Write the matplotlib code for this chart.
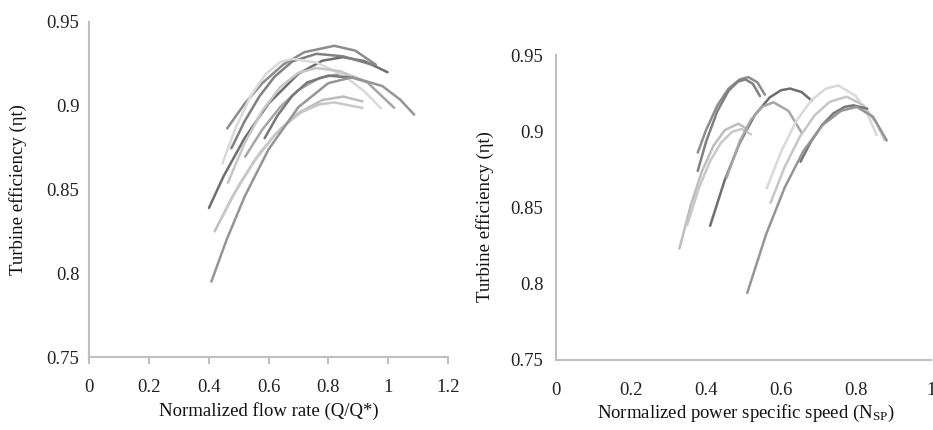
import matplotlib
matplotlib.use("Agg")
import matplotlib.pyplot as plt
from matplotlib.ticker import FormatStrFormatter, MultipleLocator

plt.rcParams['font.family'] = ['Liberation Serif', 'DejaVu Serif']
plt.rcParams['mathtext.default'] = 'regular'

# ---- data: turbine efficiency curves (gray level per turbine) ----
curve_colors = ['#6e6e6e', '#8c8c8c', '#808080', '#bdbdbd', '#c8c8c8',
                '#a6a6a6', '#d9d9d9', '#c6c6c6', '#787878', '#959595']

# Left panel: normalized flow rate Q/Q*
flow_x = [
    [0.401, 0.45, 0.52, 0.60, 0.70, 0.78, 0.848, 0.92, 0.998],
    [0.462, 0.52, 0.58, 0.65, 0.72, 0.82, 0.89, 0.959],
    [0.476, 0.52, 0.57, 0.62, 0.68, 0.76, 0.85, 0.947],
    [0.42, 0.48, 0.55, 0.62, 0.70, 0.78, 0.85, 0.914],
    [0.44, 0.50, 0.57, 0.64, 0.71, 0.77, 0.82, 0.914],
    [0.522, 0.58, 0.64, 0.70, 0.77, 0.84, 0.93, 1.02],
    [0.446, 0.49, 0.54, 0.59, 0.64, 0.68, 0.76, 0.85, 0.92, 0.976],
    [0.464, 0.52, 0.58, 0.64, 0.70, 0.76, 0.84, 0.92],
    [0.587, 0.63, 0.68, 0.73, 0.80, 0.88],
    [0.409, 0.46, 0.52, 0.60, 0.70, 0.80, 0.88, 0.98, 1.04, 1.087],
]
flow_eff = [
    [0.839, 0.858, 0.8806, 0.9013, 0.9191, 0.9269, 0.929, 0.9267, 0.920],
    [0.8865, 0.9012, 0.9136, 0.9247, 0.932, 0.9358, 0.9329, 0.9245],
    [0.8746, 0.8907, 0.9057, 0.9173, 0.9265, 0.931, 0.9295, 0.9245],
    [0.825, 0.8459, 0.8664, 0.8825, 0.8957, 0.9034, 0.9055, 0.9026],
    [0.832, 0.8523, 0.8717, 0.8863, 0.8961, 0.9008, 0.902, 0.8987],
    [0.8696, 0.886, 0.8994, 0.9094, 0.9166, 0.919, 0.914, 0.8988],
    [0.8656, 0.8867, 0.9057, 0.9188, 0.9262, 0.928, 0.9258, 0.9183, 0.9086, 0.8985],
    [0.854, 0.8776, 0.8972, 0.9113, 0.9197, 0.9225, 0.9206, 0.9148],
    [0.8806, 0.8941, 0.9061, 0.914, 0.918, 0.9167],
    [0.795, 0.820, 0.8457, 0.8739, 0.8992, 0.9135, 0.917, 0.9118, 0.9037, 0.8947],
]

# Right panel: normalized power specific speed N_SP
nsp_x = [
    [0.411, 0.45, 0.49, 0.53, 0.57, 0.60, 0.624, 0.655, 0.682],
    [0.378, 0.40, 0.43, 0.46, 0.49, 0.513, 0.537, 0.557],
    [0.378, 0.40, 0.43, 0.46, 0.485, 0.505, 0.525, 0.544],
    [0.329, 0.36, 0.39, 0.42, 0.45, 0.486, 0.51],
    [0.35, 0.38, 0.41, 0.44, 0.47, 0.495, 0.52],
    [0.455, 0.49, 0.52, 0.55, 0.58, 0.62, 0.655],
    [0.562, 0.60, 0.64, 0.68, 0.72, 0.753, 0.80, 0.83, 0.855],
    [0.572, 0.61, 0.65, 0.69, 0.73, 0.775, 0.82, 0.855, 0.877],
    [0.652, 0.68, 0.71, 0.74, 0.77, 0.793, 0.83],
    [0.51, 0.56, 0.61, 0.66, 0.71, 0.76, 0.802, 0.845, 0.882],
]
nsp_eff = [
    [0.838, 0.868, 0.8924, 0.9106, 0.9222, 0.9269, 0.928, 0.9257, 0.920],
    [0.886, 0.9007, 0.9168, 0.9279, 0.934, 0.9355, 0.9321, 0.924],
    [0.874, 0.893, 0.913, 0.9265, 0.9325, 0.934, 0.9311, 0.923],
    [0.823, 0.852, 0.8743, 0.8905, 0.9007, 0.905, 0.9015],
    [0.8385, 0.862, 0.880, 0.8925, 0.8997, 0.9015, 0.898],
    [0.8696, 0.8933, 0.9076, 0.9161, 0.919, 0.9133, 0.899],
    [0.8626, 0.8865, 0.9064, 0.9201, 0.928, 0.930, 0.9231, 0.9116, 0.8975],
    [0.853, 0.8767, 0.8963, 0.9105, 0.9193, 0.9227, 0.9171, 0.905, 0.894],
    [0.880, 0.8932, 0.9042, 0.9118, 0.916, 0.917, 0.9148],
    [0.794, 0.8322, 0.8632, 0.8871, 0.9039, 0.9134, 0.916, 0.9096, 0.894],
]

ylabel = "Turbine efficiency (\u03b7t)"
xlabel_left = "Normalized flow rate (Q/Q*)"
xlabel_right = r"Normalized power specific speed (N$_\mathregular{SP}$)"

W, H = 933, 430
fig = plt.figure(figsize=(W / 100, H / 100), dpi=100)

axL = fig.add_axes([89 / W, 1 - 357 / H, (448 - 89) / W, (357 - 22) / H])
axR = fig.add_axes([556 / W, 1 - 360 / H, (931 - 556) / W, (360 - 55) / H])

spine_col = '#bfbfbf'
fs = 13.5

for ax in (axL, axR):
    for s in ('top', 'right'):
        ax.spines[s].set_visible(False)
    for s in ('left', 'bottom'):
        ax.spines[s].set_color(spine_col)
        ax.spines[s].set_linewidth(1.5)
    ax.set_ylim(0.75, 0.95)
    ax.yaxis.set_major_locator(MultipleLocator(0.05))
    ax.yaxis.set_major_formatter(FormatStrFormatter('%g'))
    ax.xaxis.set_major_formatter(FormatStrFormatter('%g'))
    ax.tick_params(axis='y', length=0, labelsize=fs, colors='#222222')
    ax.set_facecolor('none')

axL.set_xlim(0, 1.2)
axL.xaxis.set_major_locator(MultipleLocator(0.2))
axL.tick_params(axis='x', direction='out', length=5, width=1.5, color=spine_col,
                labelsize=fs, labelcolor='#222222', pad=11)
axL.tick_params(axis='y', pad=7)

axR.set_xlim(0, 1.0)
axR.xaxis.set_major_locator(MultipleLocator(0.2))
axR.tick_params(axis='x', length=0, labelsize=fs, labelcolor='#222222', pad=16)
axR.tick_params(axis='y', pad=9)

for xs, ys, c in zip(flow_x, flow_eff, curve_colors):
    axL.plot(xs, ys, color=c, lw=1.8, solid_capstyle='round', solid_joinstyle='round')
for xs, ys, c in zip(nsp_x, nsp_eff, curve_colors):
    axR.plot(xs, ys, color=c, lw=1.8, solid_capstyle='round', solid_joinstyle='round')

axL.set_ylabel(ylabel, fontsize=fs, color='#111111')
axL.yaxis.set_label_coords((18 - 89) / 359, 0.5)
axL.yaxis.label.set_va('center')
axL.set_xlabel(xlabel_left, fontsize=fs, color='#111111')
axL.xaxis.set_label_coords(0.5, (357 - 411) / 335)
axL.xaxis.label.set_va('center')

axR.set_ylabel(ylabel, fontsize=fs, color='#111111')
axR.yaxis.set_label_coords((485 - 556) / 375, 0.47)
axR.yaxis.label.set_va('center')
axR.set_xlabel(xlabel_right, fontsize=fs, color='#111111')
axR.xaxis.set_label_coords(0.505, (360 - 413) / 305)
axR.xaxis.label.set_va('center')

for lab in axR.get_xticklabels():
    lab.set_clip_on(False)

fig.savefig("out.png", dpi=100, facecolor='white')
